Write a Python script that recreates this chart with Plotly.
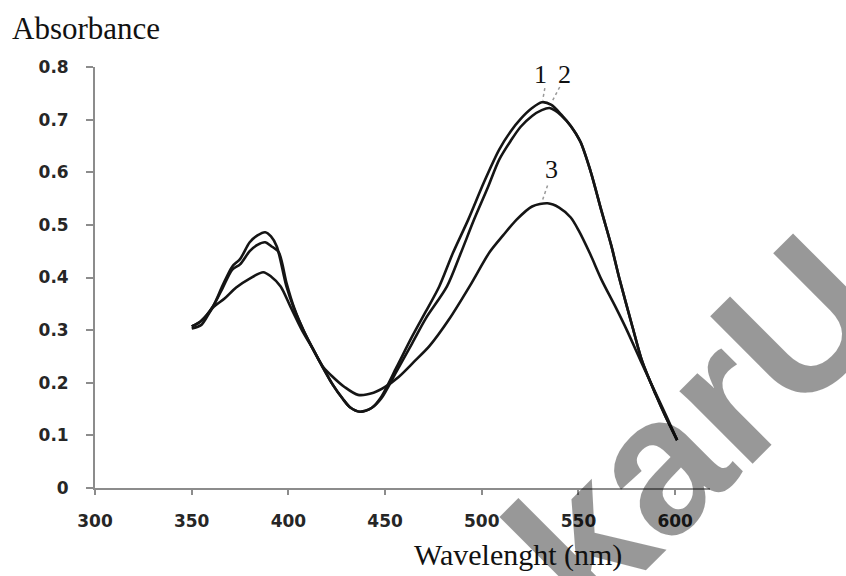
import plotly.graph_objects as go

# ---- data ----
wl_1 = [350, 355, 361, 366, 371, 375, 380, 384, 388, 391, 394, 399, 403, 408, 413, 418, 423, 428, 432, 437,
        443, 448, 456, 464, 471, 478, 485, 493, 501, 509, 515, 520, 526, 531, 536, 541, 546, 551, 556, 562,
        567, 571, 578, 583, 590, 595, 601]
abs_1 = [0.307, 0.318, 0.345, 0.385, 0.421, 0.435, 0.467, 0.480, 0.486, 0.478, 0.459, 0.383, 0.340, 0.298,
         0.262, 0.228, 0.196, 0.170, 0.153, 0.145, 0.152, 0.173, 0.230, 0.288, 0.335, 0.383, 0.446, 0.510,
         0.580, 0.643, 0.678, 0.701, 0.722, 0.733, 0.728, 0.710, 0.688, 0.658, 0.605, 0.525, 0.460, 0.400,
         0.305, 0.240, 0.177, 0.136, 0.091]

wl_2 = [350, 355, 361, 366, 371, 375, 380, 384, 388, 391, 395, 399, 403, 408, 413, 418, 423, 428, 432, 437,
        443, 448, 456, 464, 471, 482, 489, 496, 503, 509, 515, 520, 526, 531, 535, 538, 541, 546, 551, 556,
        562, 567, 571, 578, 583, 590, 595, 601]
abs_2 = [0.307, 0.318, 0.345, 0.380, 0.415, 0.425, 0.450, 0.462, 0.467, 0.460, 0.448, 0.390, 0.342, 0.298,
         0.262, 0.228, 0.196, 0.170, 0.153, 0.145, 0.152, 0.170, 0.222, 0.275, 0.322, 0.383, 0.445, 0.510,
         0.570, 0.624, 0.660, 0.686, 0.707, 0.718, 0.722, 0.717, 0.708, 0.688, 0.658, 0.605, 0.525, 0.460,
         0.400, 0.305, 0.240, 0.177, 0.136, 0.091]

wl_3 = [350, 355, 361, 367, 373, 380, 387, 391, 396, 401, 407, 413, 418, 423, 429, 436, 444, 450, 457, 465,
        473, 483, 494, 504, 511, 518, 526, 534, 540, 546, 550, 556, 562, 569, 575, 582, 588, 595, 601]
abs_3 = [0.303, 0.310, 0.343, 0.360, 0.381, 0.398, 0.410, 0.402, 0.383, 0.345, 0.300, 0.262, 0.230, 0.211,
         0.192, 0.177, 0.181, 0.192, 0.211, 0.240, 0.270, 0.320, 0.385, 0.448, 0.480, 0.510, 0.535, 0.541,
         0.533, 0.514, 0.490, 0.445, 0.395, 0.345, 0.300, 0.243, 0.195, 0.140, 0.091]

x_ticks = [300, 350, 400, 450, 500, 550, 600]
y_ticks = [0, 0.1, 0.2, 0.3, 0.4, 0.5, 0.6, 0.7, 0.8]
y_tick_text = ["0", "0.1", "0.2", "0.3", "0.4", "0.5", "0.6", "0.7", "0.8"]

curve_labels = ["1", "2", "3"]
label_pos = [(530.5, 0.785), (542.9, 0.785), (536.2, 0.606)]
leader_lines = [((532.6, 0.760), (531.5, 0.737)),
                ((540.3, 0.762), (536.7, 0.737)),
                ((534.0, 0.575), (531.4, 0.547))]

# ---- figure ----
fig = go.Figure()
for wl, ab in [(wl_1, abs_1), (wl_2, abs_2), (wl_3, abs_3)]:
    fig.add_trace(go.Scatter(x=wl, y=ab, mode="lines",
                             line=dict(color="#151515", width=2.6, shape="spline", smoothing=0.8),
                             showlegend=False, hoverinfo="skip"))

tick_font = dict(family="DejaVu Sans", size=17, color="#262626", weight="bold")

fig.update_xaxes(range=[300, 618], tickvals=x_ticks, ticktext=[str(v) for v in x_ticks],
                 showline=True, linecolor="#8c8c8c", linewidth=1.8,
                 ticks="outside", ticklen=5, tickcolor="#8c8c8c", tickwidth=1.5,
                 showgrid=False, zeroline=False, tickfont=tick_font, ticklabelstandoff=12)
fig.update_yaxes(range=[0, 0.8], tickvals=y_ticks, ticktext=y_tick_text,
                 showline=True, linecolor="#8c8c8c", linewidth=1.8,
                 ticks="outside", ticklen=7, tickcolor="#8c8c8c", tickwidth=1.5,
                 showgrid=False, zeroline=False, tickfont=tick_font, ticklabelstandoff=14)

serif = "Liberation Serif, Times New Roman, serif"

# watermark (semi-transparent so the curves and texts show through it)
fig.add_annotation(text="karU", xref="paper", yref="paper", x=(695 - 95) / 615, y=(488 - 425) / 421,
                   showarrow=False, textangle=-45,
                   font=dict(family="Liberation Sans", size=195, color="black", weight="bold"),
                   opacity=0.4, xanchor="center", yanchor="middle")

for (x0, y0), (x1, y1) in leader_lines:
    fig.add_shape(type="line", x0=x0, y0=y0, x1=x1, y1=y1, xref="x", yref="y",
                  line=dict(color="#9a9a9a", width=1.5, dash="dot"))
for lab, (lx, ly) in zip(curve_labels, label_pos):
    fig.add_annotation(text=lab, x=lx, y=ly, xref="x", yref="y", showarrow=False,
                       font=dict(family=serif, size=26, color="#111"))

fig.add_annotation(text="Absorbance", xref="paper", yref="paper", x=(10 - 95) / 615, y=(488 - 29) / 421,
                   xanchor="left", yanchor="middle", showarrow=False,
                   font=dict(family=serif, size=31, color="#111"))
fig.add_annotation(text="Wavelenght (nm)", xref="paper", yref="paper", x=(518 - 95) / 615, y=(488 - 555) / 421,
                   xanchor="center", yanchor="middle", showarrow=False,
                   font=dict(family=serif, size=30, color="#111"))

fig.update_layout(width=846, height=576, margin=dict(l=95, r=136, t=67, b=88),
                  paper_bgcolor="white", plot_bgcolor="white")
fig.write_html("out.html")
